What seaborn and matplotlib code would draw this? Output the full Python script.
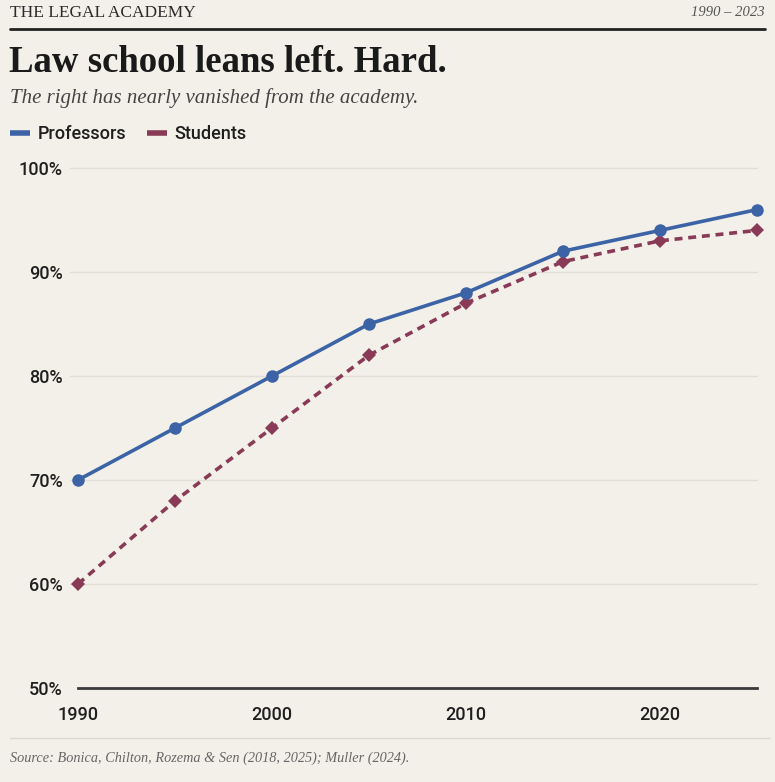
import matplotlib
matplotlib.use("Agg")
import matplotlib.pyplot as plt
from matplotlib.lines import Line2D
import seaborn as sns
import pandas as pd

years = [1990, 1995, 2000, 2005, 2010, 2015, 2020, 2025]
professors = [70, 75, 80, 85, 88, 92, 94, 96]
students = [60, 68, 75, 82, 87, 91, 93, 94]
series_names = ["Professors", "Students"]
x_ticks = [1990, 2000, 2010, 2020]
y_ticks = [50, 60, 70, 80, 90, 100]

BG = "#F3F0E9"
BLUE = "#3C63A6"
MAROON = "#893A56"
INK = "#1F1F1F"
SANS = ["Roboto", "Liberation Sans", "DejaVu Sans"]

sns.set_theme(style="white")
plt.rcParams["font.family"] = SANS

df = pd.DataFrame({
    "year": years * 2,
    "value": professors + students,
    "group": [series_names[0]] * len(years) + [series_names[1]] * len(years),
})

fig = plt.figure(figsize=(7.75, 7.82), dpi=100, facecolor=BG)
ax = fig.add_axes([78 / 775, 1 - 688 / 782, (757 - 78) / 775, (688 - 168) / 782])
ax.set_facecolor(BG)

sns.lineplot(data=df[df.group == "Professors"], x="year", y="value", ax=ax,
             color=BLUE, linewidth=2.6, marker="o", markersize=9,
             markeredgewidth=0, clip_on=False, legend=False, zorder=4)
sns.lineplot(data=df[df.group == "Students"], x="year", y="value", ax=ax,
             color=MAROON, linewidth=2.6, marker="D", markersize=7.5,
             markeredgewidth=0, dashes=False, clip_on=False, legend=False, zorder=3)
ax.lines[-1].set_linestyle((0, (2.2, 1.6)))

ax.set_xlim(1990, 2025)
ax.set_ylim(50, 100)
ax.set_xticks(x_ticks)
ax.set_xticklabels([str(t) for t in x_ticks])
ax.set_yticks(y_ticks)
ax.set_yticklabels([f"{t}%" for t in y_ticks])
ax.set_xlabel("")
ax.set_ylabel("")

for t in y_ticks[1:]:
    ax.axhline(t, xmin=-8 / 679, xmax=1, color="#E2DED6", linewidth=1.0, zorder=1, clip_on=False)

for s in ["top", "right", "left"]:
    ax.spines[s].set_visible(False)
ax.spines["bottom"].set_color("#3A3A3A")
ax.spines["bottom"].set_linewidth(2.0)
ax.tick_params(axis="both", length=0, labelsize=13, colors=INK)
ax.tick_params(axis="y", pad=11)
ax.tick_params(axis="x", pad=13)
for lab in ax.get_xticklabels() + ax.get_yticklabels():
    lab.set_fontweight("medium")

# header
fig.text(10 / 775, 1 - 13 / 782, "THE LEGAL ACADEMY", family="Liberation Serif",
         fontsize=12.5, color="#2A2A2A", va="center", ha="left")
fig.text(765 / 775, 1 - 13 / 782, "1990 – 2023", family="Liberation Serif",
         style="italic", fontsize=10.5, color="#555555", va="center", ha="right")
fig.add_artist(Line2D([10 / 775, 765 / 775], [1 - 29 / 782, 1 - 29 / 782],
                      transform=fig.transFigure, color="#222222", linewidth=2.0))
fig.text(9 / 775, 1 - 62 / 782, "Law school leans left. Hard.", family="Liberation Serif",
         fontweight="bold", fontsize=26.5, color="#1A1A1A", va="center", ha="left")
fig.text(10 / 775, 1 - 98 / 782, "The right has nearly vanished from the academy.",
         family="Liberation Serif", style="italic", fontsize=15, color="#444444",
         va="center", ha="left")

# legend
handles = [Line2D([], [], color=BLUE, linewidth=4, solid_capstyle="butt"),
           Line2D([], [], color=MAROON, linewidth=4, solid_capstyle="butt")]
leg = fig.legend(handles, series_names, loc="center left", bbox_to_anchor=(-6 / 775, 1 - 134 / 782),
                 ncol=2, frameon=False, handlelength=1.1, handletextpad=0.45, columnspacing=1.1,
                 prop={"family": SANS, "size": 13, "weight": "medium"})
for txt in leg.get_texts():
    txt.set_color(INK)

# footer
fig.add_artist(Line2D([10 / 775, 770 / 775], [1 - 738 / 782, 1 - 738 / 782],
                      transform=fig.transFigure, color="#DCD8D0", linewidth=1.0))
fig.text(10 / 775, 1 - 758 / 782, "Source: Bonica, Chilton, Rozema & Sen (2018, 2025); Muller (2024).",
         family="Liberation Serif", style="italic", fontsize=10.3, color="#666666",
         va="center", ha="left")

fig.savefig("out.png", dpi=100, facecolor=BG)
